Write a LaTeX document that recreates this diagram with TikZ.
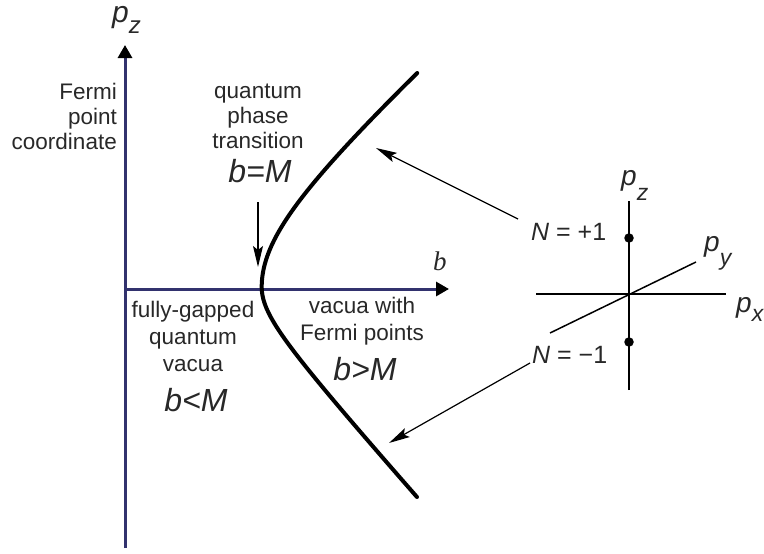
\documentclass[tikz,border=0pt]{standalone}
\usepackage{fontspec}
\setmainfont{Liberation Sans}
\newfontfamily\serifface{Liberation Serif}
\usetikzlibrary{arrows.meta}
\definecolor{axisblue}{RGB}{50,50,110}
\definecolor{txt}{RGB}{40,40,40}
\newcommand\momlabel[4]{{\fontsize{#1}{#1}\selectfont\itshape p}\raisebox{-#3pt}{\fontsize{#2}{#2}\selectfont\itshape #4}}
\begin{document}
\begin{tikzpicture}[x=1pt,y=-1pt,
  axis/.style={line width=3pt, color=axisblue, -{Triangle[length=13pt,width=14pt,color=black]}},
  curve/.style={line width=4pt, line cap=round, line join=round, black},
  thinarrow/.style={line width=1.2pt, -{Stealth[length=21pt,width=10pt,inset=4pt]}},
  thinline/.style={line width=1.5pt, black},
  lbl/.style={font=\fontsize{22.5}{26}\selectfont, inner sep=0pt, text=txt},
  big/.style={font=\fontsize{32}{32}\selectfont\itshape, inner sep=0pt, text=txt},
  eq/.style={font=\fontsize{25}{25}\selectfont, inner sep=0pt, text=txt},
  mom/.style={inner sep=0pt, text=txt, anchor=base west},
  dot/.style={circle, fill=black, inner sep=0pt, minimum size=9.5pt}
]
\useasboundingbox (0,0) rectangle (764,554);

% main axes
\coordinate (zbot) at (125,548);
\coordinate (ztop) at (125,45);
\coordinate (bleft) at (125,289);
\coordinate (bright) at (449,289);
\draw[axis] (zbot) -- (ztop);
\draw[axis] (bleft) -- (bright);

\node[mom] (pz) at (112,23) {\momlabel{30}{24}{11}{z}};
\node[inner sep=0pt, anchor=base west, text=txt, font=\fontsize{27}{27}\selectfont\serifface\itshape] (blabel) at (433,270) {b};

% phase boundary (two branches joined at the vertex)
\draw[curve]
  plot[domain=-214:0, samples=70] ({261.7+100*(sqrt(1+(\x/91)*(\x/91))-1)}, {287+\x})
  -- plot[domain=0:210, samples=70] ({261.7+35*(sqrt(1+(\x/39.3)*(\x/39.3))-1)}, {287+\x});

% left labels
\node[lbl, anchor=base east] (f1) at (117,99) {Fermi};
\node[lbl, anchor=base east] (f2) at (117,124) {point};
\node[lbl, anchor=base east] (f3) at (117,149) {coordinate};

\node[lbl, anchor=base] (q1) at (258,98) {quantum};
\node[lbl, anchor=base] (q2) at (258,123) {phase};
\node[lbl, anchor=base] (q3) at (258,148) {transition};
\node[big, anchor=base] (bm) at (260,182) {b=M};

\node[lbl, anchor=base] (g1) at (193,317) {fully-gapped};
\node[lbl, anchor=base] (g2) at (193,344) {quantum};
\node[lbl, anchor=base] (g3) at (193,371) {vacua};
\node[big, anchor=base] (bl) at (196,411) {b<M};

\node[lbl, anchor=base] (v1) at (362,313) {vacua with};
\node[lbl, anchor=base] (v2) at (362,340) {Fermi points};
\node[big, anchor=base] (bg) at (365,380) {b>M};

% small momentum space
\coordinate (rzt) at (629,201);
\coordinate (rzb) at (629,390);
\coordinate (rxl) at (536,294);
\coordinate (rxr) at (726,294);
\coordinate (ryl) at (550,333);
\coordinate (ryr) at (696,262);
\draw[thinline] (rzb) -- (rzt);
\draw[thinline] (rxl) -- (rxr);
\draw[thinline] (ryl) -- (ryr);
\node[dot] (dp) at (629,238) {};
\node[dot] (dm) at (629,342) {};

\node[mom] (rpz) at (621,185) {\momlabel{28}{23}{15}{z}};
\node[mom] (rpy) at (704,251) {\momlabel{28}{23}{14}{y}};
\node[mom] (rpx) at (736,312) {\momlabel{28}{23}{9}{x}};

\node[eq, anchor=base west] (np) at (531,240) {{\itshape N} = +1};
\node[eq, anchor=base west] (nm) at (532,363) {{\itshape N} = −1};

% arrows
\coordinate (a1s) at (518,219);
\coordinate (a1e) at (376,148);
\coordinate (a2s) at (530,363);
\coordinate (a2e) at (389,443);
\coordinate (a3s) at (258,202);
\coordinate (a3e) at (258,267);
\draw[thinarrow] (a1s) -- (a1e);
\draw[thinarrow] (a2s) -- (a2e);
\draw[thinarrow] (a3s) -- (a3e);
\end{tikzpicture}
\end{document}
